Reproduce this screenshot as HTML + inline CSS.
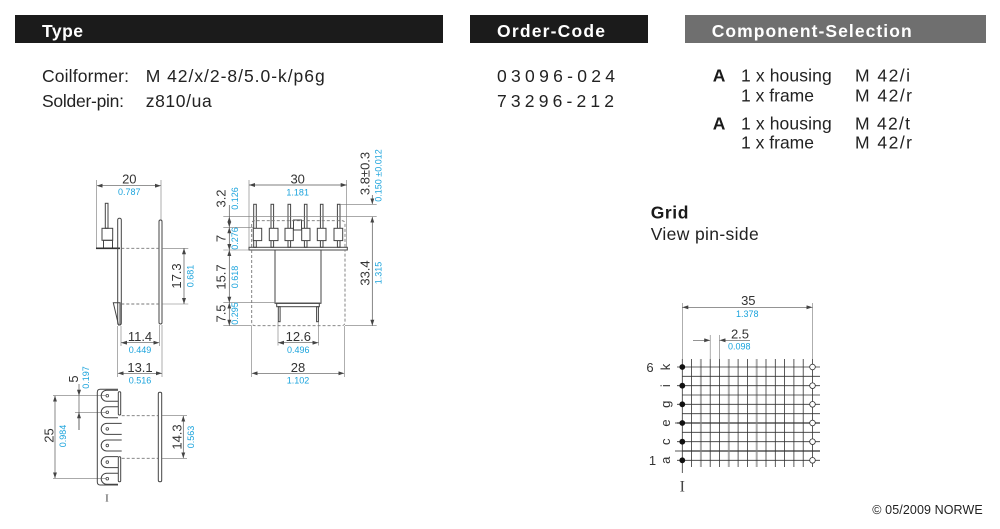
<!DOCTYPE html>
<html><head><meta charset="utf-8"><style>
html,body{margin:0;padding:0;background:#fff;}
svg{display:block;}
text{font-family:"Liberation Sans",Arial,sans-serif;}
.t{fill:#222;font-size:17.5px;}
.b{fill:#1a1a1a;font-size:17.5px;font-weight:bold;}
.h{fill:#fff;font-size:17.5px;font-weight:bold;}
.d{fill:#333;font-size:13px;}
.c{fill:#1aa3dc;font-size:9px;}
.ln{stroke:#444;stroke-width:1;fill:none;}
.dm{stroke:#555;stroke-width:0.7;fill:none;}
.ex{stroke:#777;stroke-width:0.6;fill:none;}
.ds{stroke:#777;stroke-width:0.9;fill:none;stroke-dasharray:3 2;}
.g{stroke:#333;stroke-width:0.8;}
.gg{stroke:#aaa;stroke-width:2;}
</style></head><body>
<svg width="1000" height="529" viewBox="0 0 1000 529" xmlns="http://www.w3.org/2000/svg">
<defs>
<marker id="a" viewBox="0 0 6 4" refX="6" refY="2" markerWidth="6" markerHeight="4" orient="auto-start-reverse" markerUnits="userSpaceOnUse"><path d="M0,0 L6,2 L0,4 z" fill="#444"/></marker>
</defs>
<rect width="1000" height="529" fill="#fff"/>

<!-- Header bars -->
<rect x="15" y="15" width="428" height="28" fill="#1b1b1b"/>
<text class="h" x="42" y="37" textLength="41" lengthAdjust="spacing">Type</text>
<rect x="470" y="15" width="178" height="28" fill="#1b1b1b"/>
<text class="h" x="497" y="37" textLength="108" lengthAdjust="spacing">Order-Code</text>
<rect x="685" y="15" width="301" height="28" fill="#6f6f6f"/>
<text class="h" x="711.7" y="37" textLength="200" lengthAdjust="spacing">Component-Selection</text>

<!-- Type text -->
<text class="t" x="42" y="82" textLength="87" lengthAdjust="spacing">Coilformer:</text>
<text class="t" x="145.7" y="82" textLength="179" lengthAdjust="spacing">M 42/x/2-8/5.0-k/p6g</text>
<text class="t" x="42" y="107" textLength="82" lengthAdjust="spacing">Solder-pin:</text>
<text class="t" x="145.7" y="107" textLength="66" lengthAdjust="spacing">z810/ua</text>

<!-- Order codes -->
<text class="t" x="497" y="82" textLength="118" lengthAdjust="spacing">03096-024</text>
<text class="t" x="497" y="107" textLength="117" lengthAdjust="spacing">73296-212</text>

<!-- Component selection -->
<text class="b" x="712.7" y="81.7">A</text>
<text class="t" x="741" y="81.7" textLength="90.7" lengthAdjust="spacing">1 x housing</text>
<text class="t" x="855" y="81.7" textLength="55" lengthAdjust="spacing">M 42/i</text>
<text class="t" x="741" y="101.7" textLength="73" lengthAdjust="spacing">1 x frame</text>
<text class="t" x="855" y="101.7" textLength="57" lengthAdjust="spacing">M 42/r</text>
<text class="b" x="712.7" y="129.3">A</text>
<text class="t" x="741" y="129.3" textLength="90.7" lengthAdjust="spacing">1 x housing</text>
<text class="t" x="855" y="129.3" textLength="55" lengthAdjust="spacing">M 42/t</text>
<text class="t" x="741" y="148.3" textLength="73" lengthAdjust="spacing">1 x frame</text>
<text class="t" x="855" y="148.3" textLength="57" lengthAdjust="spacing">M 42/r</text>

<!-- Grid title -->
<text class="b" x="650.7" y="218.3" textLength="37.7" lengthAdjust="spacing">Grid</text>
<text class="t" x="650.7" y="240" textLength="108" lengthAdjust="spacing">View pin-side</text>

<!-- ============ Left side view ============ -->
<line class="dm" x1="96.7" y1="185.7" x2="161" y2="185.7" marker-start="url(#a)" marker-end="url(#a)"/>
<line class="ex" x1="96.7" y1="180" x2="96.7" y2="248"/>
<line class="ex" x1="161" y1="180" x2="161" y2="220"/>
<text class="d" x="129.3" y="183.5" text-anchor="middle">20</text>
<text class="c" x="129.3" y="195" text-anchor="middle">0.787</text>
<rect class="ln" x="105.3" y="203.3" width="2.7" height="25"/>
<rect class="ln" x="102" y="228.3" width="10.7" height="12"/>
<rect class="ln" x="103.5" y="240.3" width="9" height="8"/>
<line x1="96" y1="248.3" x2="120" y2="248.3" stroke="#333" stroke-width="1.6"/>
<rect class="ln" x="117.7" y="218.3" width="3.6" height="106.7" rx="1.6"/>
<rect class="ln" x="159" y="220" width="3" height="104" rx="1.5"/>
<line class="ds" x1="121.3" y1="248.3" x2="159" y2="248.3"/>
<line class="ds" x1="121.3" y1="304" x2="159" y2="304"/>
<line class="ex" x1="162" y1="248.3" x2="188.3" y2="248.3"/>
<line class="ex" x1="162" y1="304" x2="188.3" y2="304"/>
<line class="dm" x1="184" y1="248.3" x2="184" y2="304" marker-start="url(#a)" marker-end="url(#a)"/>
<text class="d" transform="translate(181,276) rotate(-90)" text-anchor="middle">17.3</text>
<text class="c" transform="translate(193.7,276) rotate(-90)" text-anchor="middle">0.681</text>
<polygon class="ln" points="113.3,302.7 120,302.7 120,325 118.5,325"/>
<line class="ex" x1="121" y1="326" x2="121" y2="346"/>
<line class="ex" x1="159.3" y1="325" x2="159.3" y2="346"/>
<line class="dm" x1="121" y1="342.7" x2="159.3" y2="342.7" marker-start="url(#a)" marker-end="url(#a)"/>
<text class="d" x="140" y="341" text-anchor="middle">11.4</text>
<text class="c" x="140" y="353" text-anchor="middle">0.449</text>
<line class="ex" x1="117.7" y1="326" x2="117.7" y2="377"/>
<line class="ex" x1="162" y1="325" x2="162" y2="377"/>
<line class="dm" x1="117.7" y1="373.3" x2="162" y2="373.3" marker-start="url(#a)" marker-end="url(#a)"/>
<text class="d" x="140" y="372" text-anchor="middle">13.1</text>
<text class="c" x="140" y="383.5" text-anchor="middle">0.516</text>

<!-- ============ Front view ============ -->
<line class="dm" x1="249" y1="185" x2="346.7" y2="185" marker-start="url(#a)" marker-end="url(#a)"/>
<line class="ex" x1="249" y1="180" x2="249" y2="247"/>
<line class="ex" x1="346.7" y1="180" x2="346.7" y2="247"/>
<text class="d" x="297.7" y="183.3" text-anchor="middle">30</text>
<text class="c" x="297.7" y="195.7" text-anchor="middle">1.181</text>
<g class="ln">
<rect x="253.7" y="204.3" width="2.6" height="43"/>
<rect x="271" y="204.3" width="2.6" height="43"/>
<rect x="288" y="204.3" width="2.6" height="43"/>
<rect x="304.4" y="204.3" width="2.6" height="43"/>
<rect x="320.4" y="204.3" width="2.6" height="43"/>
<rect x="337.4" y="204.3" width="2.6" height="43"/>
</g>
<g class="ln">
<rect x="253.3" y="228.3" width="8.4" height="12.3" fill="#fff"/>
<rect x="269.3" y="228.3" width="8.7" height="12.3" fill="#fff"/>
<rect x="285" y="228.3" width="8.3" height="12.3" fill="#fff"/>
<rect x="301.7" y="228.3" width="8.3" height="12.3" fill="#fff"/>
<rect x="317.3" y="228.3" width="8.7" height="12.3" fill="#fff"/>
<rect x="334" y="228.3" width="8.7" height="12.3" fill="#fff"/>
</g>
<rect class="ln" x="293.5" y="220" width="8" height="10"/>
<path class="ds" d="M251.7,247 V224 Q251.7,220.7 255,220.7 H341.7 Q345,220.7 345,224 V247"/>
<rect class="ln" x="249" y="247.3" width="98.3" height="2.7"/>
<path class="ds" d="M251.7,250 V322 Q251.7,325.7 255.4,325.7 H341.3 Q345,325.7 345,322 V250"/>
<rect class="ln" x="275" y="250" width="46" height="53.3"/>
<rect class="ln" x="276.7" y="303.3" width="42.6" height="3.4"/>
<rect class="ln" x="278.3" y="306.7" width="1.8" height="15"/>
<rect class="ln" x="316.6" y="306.7" width="1.8" height="15"/>
<line class="ex" x1="223.3" y1="216.7" x2="376.7" y2="216.7"/>
<line class="ex" x1="223.3" y1="227.3" x2="253.3" y2="227.3"/>
<line class="ex" x1="223.3" y1="250" x2="249" y2="250"/>
<line class="ex" x1="223.3" y1="302.7" x2="321" y2="302.7"/>
<line class="ex" x1="223.3" y1="325.7" x2="251.7" y2="325.7"/>
<line class="dm" x1="229.3" y1="216.7" x2="229.3" y2="227.3" marker-start="url(#a)" marker-end="url(#a)"/>
<line class="dm" x1="229.3" y1="227.3" x2="229.3" y2="250" marker-start="url(#a)" marker-end="url(#a)"/>
<line class="dm" x1="229.3" y1="250" x2="229.3" y2="302.7" marker-start="url(#a)" marker-end="url(#a)"/>
<line class="dm" x1="229.3" y1="302.7" x2="229.3" y2="325.7" marker-start="url(#a)" marker-end="url(#a)"/>
<line class="dm" x1="229.3" y1="205" x2="229.3" y2="216.7"/>
<text class="d" transform="translate(225.6,198.5) rotate(-90)" text-anchor="middle">3.2</text>
<text class="c" transform="translate(238.2,198.5) rotate(-90)" text-anchor="middle">0.126</text>
<text class="d" transform="translate(225.6,238.5) rotate(-90)" text-anchor="middle">7</text>
<text class="c" transform="translate(238.2,238.5) rotate(-90)" text-anchor="middle">0.276</text>
<text class="d" transform="translate(225.6,277) rotate(-90)" text-anchor="middle">15.7</text>
<text class="c" transform="translate(238.2,277) rotate(-90)" text-anchor="middle">0.618</text>
<text class="d" transform="translate(225.6,313.5) rotate(-90)" text-anchor="middle">7.5</text>
<text class="c" transform="translate(238.2,313.5) rotate(-90)" text-anchor="middle">0.295</text>
<line class="ex" x1="278" y1="322" x2="278" y2="345.5"/>
<line class="ex" x1="318.5" y1="322" x2="318.5" y2="345.5"/>
<line class="dm" x1="278" y1="342.7" x2="318.5" y2="342.7" marker-start="url(#a)" marker-end="url(#a)"/>
<text class="d" x="298.3" y="341" text-anchor="middle">12.6</text>
<text class="c" x="298.3" y="353" text-anchor="middle">0.496</text>
<line class="ex" x1="251.7" y1="326" x2="251.7" y2="377"/>
<line class="ex" x1="344.3" y1="326" x2="344.3" y2="377"/>
<line class="dm" x1="251.7" y1="373.3" x2="344.3" y2="373.3" marker-start="url(#a)" marker-end="url(#a)"/>
<text class="d" x="298" y="372" text-anchor="middle">28</text>
<text class="c" x="298" y="383.5" text-anchor="middle">1.102</text>
<line class="ex" x1="340" y1="204.3" x2="376.7" y2="204.3"/>
<line class="ex" x1="345" y1="325.7" x2="376.7" y2="325.7"/>
<line class="dm" x1="372.3" y1="216.7" x2="372.3" y2="325.7" marker-start="url(#a)" marker-end="url(#a)"/>
<line class="dm" x1="372.3" y1="195" x2="372.3" y2="204.3" marker-end="url(#a)"/>
<text class="d" transform="translate(369.6,273) rotate(-90)" text-anchor="middle">33.4</text>
<text class="c" transform="translate(381.7,273) rotate(-90)" text-anchor="middle">1.315</text>
<text class="d" transform="translate(369.6,173.5) rotate(-90)" text-anchor="middle">3.8±0.3</text>
<text class="c" transform="translate(381.7,175.5) rotate(-90)" text-anchor="middle">0.150 ±0.012</text>

<!-- ============ Bottom view ============ -->
<line class="ex" x1="53" y1="395.7" x2="107" y2="395.7"/>
<line class="ex" x1="75" y1="412.3" x2="107" y2="412.3"/>
<line class="ex" x1="53" y1="478.3" x2="107" y2="478.3"/>
<line class="dm" x1="79" y1="384" x2="79" y2="395.7" marker-end="url(#a)"/>
<line class="dm" x1="79" y1="395.7" x2="79" y2="430" />
<line class="dm" x1="79" y1="430" x2="79" y2="412.3" marker-end="url(#a)"/>
<text class="d" transform="translate(78,379) rotate(-90)" text-anchor="middle">5</text>
<text class="c" transform="translate(89.2,377.5) rotate(-90)" text-anchor="middle">0.197</text>
<line class="dm" x1="55" y1="395.7" x2="55" y2="478.3" marker-start="url(#a)" marker-end="url(#a)"/>
<text class="d" transform="translate(53.6,435.5) rotate(-90)" text-anchor="middle">25</text>
<text class="c" transform="translate(66.2,436) rotate(-90)" text-anchor="middle">0.984</text>
<path class="ln" d="M118,389.3 H100.3 Q97.3,389.3 97.3,392.3 V482 Q97.3,485 100.3,485 H118"/>
<g class="ln">
<path d="M118,390.2 H106.7 A5.5,5.5 0 0 0 106.7,401.2 H118"/>
<path d="M118,406.8 H106.7 A5.5,5.5 0 0 0 106.7,417.8 H118"/>
<path d="M121.7,423.4 H106.7 A5.5,5.5 0 0 0 106.7,434.4 H121.7"/>
<path d="M121.7,440 H106.7 A5.5,5.5 0 0 0 106.7,451 H121.7"/>
<path d="M118,456.6 H106.7 A5.5,5.5 0 0 0 106.7,467.6 H118"/>
<path d="M118,473.2 H106.7 A5.5,5.5 0 0 0 106.7,484.2 H118"/>
</g>
<g fill="#fff" stroke="#444" stroke-width="0.8">
<circle cx="107.3" cy="395.7" r="1.3"/>
<circle cx="107.3" cy="412.3" r="1.3"/>
<circle cx="107.3" cy="428.9" r="1.3"/>
<circle cx="107.3" cy="445.5" r="1.3"/>
<circle cx="107.3" cy="462.1" r="1.3"/>
<circle cx="107.3" cy="478.7" r="1.3"/>
</g>
<rect class="ln" x="118.3" y="391.7" width="2.4" height="23.3" rx="1"/>
<rect class="ln" x="118.3" y="456.7" width="2.4" height="25" rx="1"/>
<line class="ds" x1="121.7" y1="415.7" x2="158.3" y2="415.7"/>
<line class="ds" x1="121.7" y1="458.3" x2="158.3" y2="458.3"/>
<rect class="ln" x="158.3" y="392.3" width="3.4" height="89.4" rx="1.5"/>
<line class="ex" x1="162" y1="415.7" x2="187" y2="415.7"/>
<line class="ex" x1="162" y1="458.3" x2="187" y2="458.3"/>
<line class="dm" x1="183.3" y1="415.7" x2="183.3" y2="458.3" marker-start="url(#a)" marker-end="url(#a)"/>
<text class="d" transform="translate(181.3,437) rotate(-90)" text-anchor="middle">14.3</text>
<text class="c" transform="translate(194.2,437) rotate(-90)" text-anchor="middle">0.563</text>
<text x="107" y="501.7" text-anchor="middle" style="font-family:'Liberation Serif',serif;font-size:11px;fill:#444">I</text>

<!-- ============ Grid ============ -->
<line class="ex" x1="682.3" y1="303" x2="682.3" y2="359"/>
<line class="ex" x1="812.5" y1="303" x2="812.5" y2="359"/>
<line class="dm" x1="682.3" y1="307.3" x2="812.5" y2="307.3" marker-start="url(#a)" marker-end="url(#a)"/>
<text class="d" x="748.3" y="305" text-anchor="middle">35</text>
<text class="c" x="747.3" y="317" text-anchor="middle">1.378</text>
<line class="ex" x1="710.2" y1="335" x2="710.2" y2="359"/>
<line class="ex" x1="719.5" y1="335" x2="719.5" y2="359"/>
<line class="dm" x1="693" y1="340.3" x2="710.2" y2="340.3" marker-end="url(#a)"/>
<line class="dm" x1="750" y1="340.3" x2="719.5" y2="340.3" marker-end="url(#a)"/>
<text class="d" x="740" y="338.3" text-anchor="middle">2.5</text>
<text class="c" x="739.3" y="349.3" text-anchor="middle">0.098</text>
<g class="gg">
<line x1="700.9" y1="359" x2="700.9" y2="467"/>
<line x1="728.8" y1="359" x2="728.8" y2="467"/>
<line x1="756.7" y1="359" x2="756.7" y2="467"/>
<line x1="675" y1="423" x2="820" y2="423"/>
<line x1="675" y1="451" x2="820" y2="451"/>
</g>
<g class="g">
<line x1="682.3" y1="359" x2="682.3" y2="473"/>
<line x1="691.6" y1="359" x2="691.6" y2="467"/>
<line x1="710.2" y1="359" x2="710.2" y2="467"/>
<line x1="719.5" y1="359" x2="719.5" y2="467"/>
<line x1="738.1" y1="359" x2="738.1" y2="467"/>
<line x1="747.4" y1="359" x2="747.4" y2="467"/>
<line x1="766" y1="359" x2="766" y2="467"/>
<line x1="775.3" y1="359" x2="775.3" y2="467"/>
<line x1="784.6" y1="359" x2="784.6" y2="467"/>
<line x1="793.9" y1="359" x2="793.9" y2="467"/>
<line x1="803.2" y1="359" x2="803.2" y2="467"/>
<line x1="812.5" y1="359" x2="812.5" y2="467"/>
<line x1="677" y1="367" x2="820" y2="367"/>
<line x1="682.3" y1="376.3" x2="820" y2="376.3"/>
<line x1="677" y1="385.7" x2="820" y2="385.7"/>
<line x1="682.3" y1="395" x2="820" y2="395"/>
<line x1="677" y1="404.3" x2="820" y2="404.3"/>
<line x1="682.3" y1="413.7" x2="820" y2="413.7"/>
<line x1="677" y1="423" x2="820" y2="423"/>
<line x1="682.3" y1="432.3" x2="820" y2="432.3"/>
<line x1="677" y1="441.7" x2="820" y2="441.7"/>
<line x1="682.3" y1="451" x2="820" y2="451"/>
<line x1="677" y1="460.3" x2="820" y2="460.3"/>
</g>
<g fill="#111">
<circle cx="682.3" cy="367" r="2.9"/>
<circle cx="682.3" cy="385.7" r="2.9"/>
<circle cx="682.3" cy="404.3" r="2.9"/>
<circle cx="682.3" cy="423" r="2.9"/>
<circle cx="682.3" cy="441.7" r="2.9"/>
<circle cx="682.3" cy="460.3" r="2.9"/>
</g>
<g fill="#fff" stroke="#333" stroke-width="0.8">
<circle cx="812.5" cy="367" r="2.8"/>
<circle cx="812.5" cy="385.7" r="2.8"/>
<circle cx="812.5" cy="404.3" r="2.8"/>
<circle cx="812.5" cy="423" r="2.8"/>
<circle cx="812.5" cy="441.7" r="2.8"/>
<circle cx="812.5" cy="460.3" r="2.8"/>
</g>
<text class="d" x="650" y="372" text-anchor="middle">6</text>
<text class="d" x="652.5" y="465" text-anchor="middle">1</text>
<text class="d" transform="translate(670,367) rotate(-90)" text-anchor="middle">k</text>
<text class="d" transform="translate(670,385.7) rotate(-90)" text-anchor="middle">i</text>
<text class="d" transform="translate(670,404.3) rotate(-90)" text-anchor="middle">g</text>
<text class="d" transform="translate(670,423) rotate(-90)" text-anchor="middle">e</text>
<text class="d" transform="translate(670,441.7) rotate(-90)" text-anchor="middle">c</text>
<text class="d" transform="translate(670,460.3) rotate(-90)" text-anchor="middle">a</text>
<text x="682.3" y="491.5" text-anchor="middle" style="font-family:'Liberation Serif',serif;font-size:16px;fill:#444">I</text>

<!-- copyright -->
<text x="872.3" y="514" style="font-size:12.5px;fill:#222" textLength="110.4" lengthAdjust="spacing">© 05/2009 NORWE</text>
</svg>
</body></html>
